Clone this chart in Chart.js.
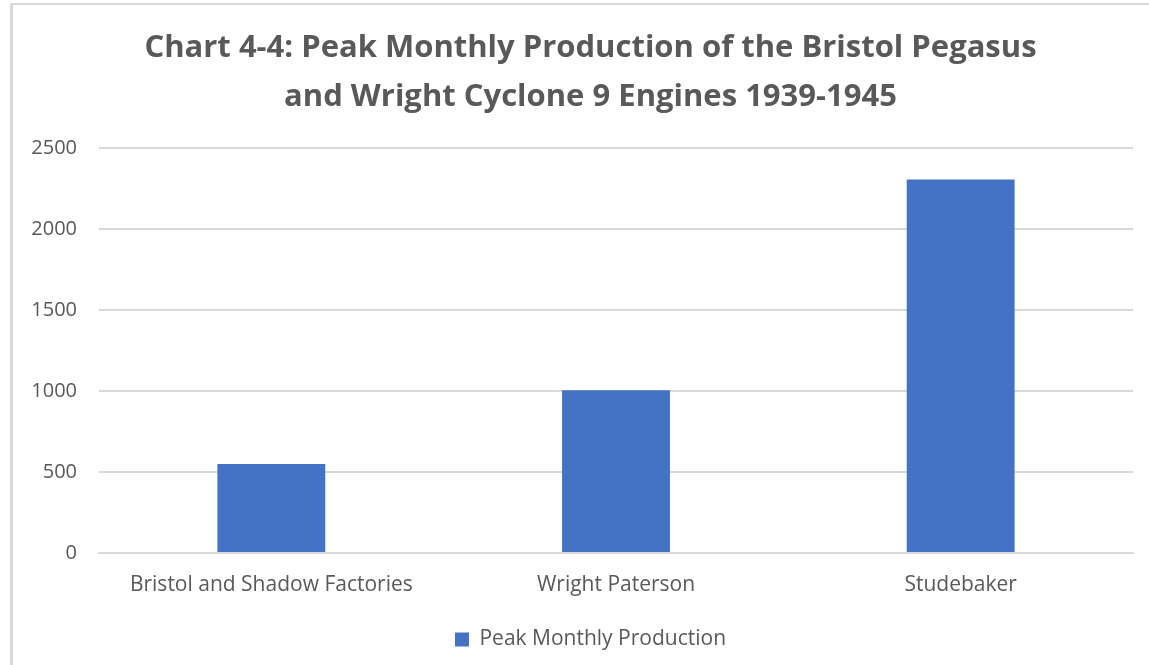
<!DOCTYPE html>
<html>
<head>
<meta charset="utf-8">
<script src="https://cdn.jsdelivr.net/npm/chart.js@4.4.0/dist/chart.umd.min.js"></script>
<style>
    html, body { margin: 0; padding: 0; background: #fff; }
    #wrap { position: relative; width: 1149px; height: 665px; overflow: hidden; }
    #frame { position: absolute; left: 10px; top: 3px; right: -10px; bottom: -10px; border-left: 3px solid #d9d9d9; border-top: 2px solid #d9d9d9; }
    canvas { position: absolute; left: 0; top: 0; }
</style>
</head>
<body>
<div id="wrap">
    <div id="frame"></div>
    <canvas id="chart" width="1149" height="665"></canvas>
</div>
<script>
// Chart data
const categories = ['Bristol and Shadow Factories', 'Wright Paterson', 'Studebaker'];
const peakMonthly = [550, 1005, 2305];
const yTicks = [0, 500, 1000, 1500, 2000, 2500];

const TEXT_COLOR = '#595959';
const BAR_COLOR = '#4472c4';
const FONT = "'Open Sans', 'Noto Sans', sans-serif";

// The original chart is wider than the visible crop, so the title and
// legend sit right of the canvas centre. Nudge them over after layout.
const centreShift = {
    id: 'centreShift',
    afterLayout(chart) {
        const dx = 18;
        [chart.titleBlock, chart.legend].forEach(box => {
            if (box) {
                box.left += dx;
                box.right += dx;
            }
        });
    }
};

const ctx = document.getElementById('chart').getContext('2d');

new Chart(ctx, {
    type: 'bar',
    data: {
        labels: categories,
        datasets: [{
            label: 'Peak Monthly Production',
            data: peakMonthly,
            backgroundColor: BAR_COLOR,
            borderWidth: 0,
            categoryPercentage: 1.0,
            barPercentage: 0.313
        }]
    },
    options: {
        responsive: false,
        animation: false,
        devicePixelRatio: 1,
        layout: { padding: { left: 12, right: 16, top: 24, bottom: 5 } },
        plugins: {
            title: {
                display: true,
                text: ['Chart 4-4: Peak Monthly Production of the Bristol Pegasus',
                       'and Wright Cyclone 9 Engines 1939-1945'],
                color: TEXT_COLOR,
                font: { family: FONT, size: 31, weight: 'bold', lineHeight: 1.58 },
                padding: { top: 0, bottom: 26 }
            },
            legend: {
                position: 'bottom',
                labels: {
                    color: TEXT_COLOR,
                    font: { family: FONT, size: 21 },
                    boxWidth: 14,
                    boxHeight: 14,
                    padding: 14
                }
            },
            tooltip: { enabled: false }
        },
        scales: {
            x: {
                afterFit: axis => { axis.height = 62; },
                grid: { display: false },
                border: { display: true, color: '#d9d9d9', width: 2 },
                ticks: { color: TEXT_COLOR, font: { family: FONT, size: 21 }, padding: 11 }
            },
            y: {
                min: 0,
                max: 2500,
                afterBuildTicks: axis => { axis.ticks = yTicks.map(v => ({ value: v })); },
                afterFit: axis => { axis.width = 87; },
                grid: { color: '#d9d9d9', lineWidth: 2, drawTicks: false },
                border: { display: false },
                ticks: {
                    color: TEXT_COLOR,
                    font: { family: FONT, size: 20 },
                    padding: 22,
                    callback: v => String(v)
                }
            }
        }
    },
    plugins: [centreShift]
});
</script>
</body>
</html>
